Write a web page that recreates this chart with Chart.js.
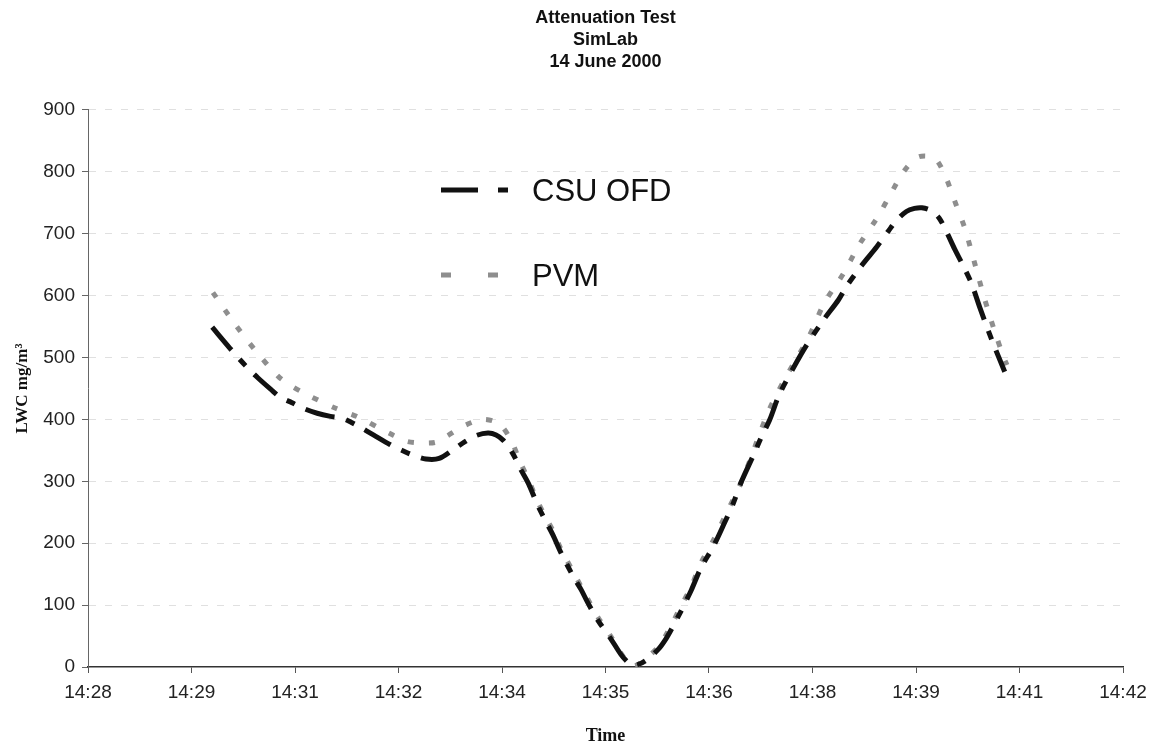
<!DOCTYPE html>
<html>
<head>
<meta charset="utf-8">
<script src="https://cdn.jsdelivr.net/npm/chart.js@4"></script>
<style>
  body { margin: 0; background: #fff; }
  #wrap { width: 1160px; height: 747px; }
</style>
</head>
<body>
<div id="wrap"><canvas id="chart"></canvas></div>
<script>
// time axis labels (Excel style, 84 s apart)
const tickLabels = ['14:28', '14:29', '14:31', '14:32', '14:34', '14:35', '14:36', '14:38', '14:39', '14:41', '14:42']

// minutes after 14:00, LWC in mg/m3
const csuTime = [
	29.68, 29.92, 30.13, 30.30, 30.47, 30.60, 30.76, 30.91, 31.10, 31.28,
	31.44, 31.66, 31.86, 32.09, 32.23, 32.40, 32.57, 32.75, 32.95, 33.10,
	33.25, 33.41, 33.52, 33.62, 33.75, 33.85, 33.96, 34.08, 34.19, 34.29,
	34.40, 34.57, 34.67, 34.76, 34.90, 35.07, 35.21, 35.30, 35.37, 35.44,
	35.55, 35.71, 35.82, 35.91, 36.02, 36.16, 36.29, 36.46, 36.61, 36.73,
	36.84, 37.00, 37.11, 37.22, 37.35, 37.55, 37.72, 37.95, 38.15, 38.26,
	38.46, 38.67, 38.83, 38.94, 39.07, 39.18, 39.28, 39.41, 39.51, 39.61,
	39.72, 39.84, 39.95, 40.06, 40.22, 40.40
]
const csuLwc = [
	549, 515, 487, 467, 449, 436, 427, 418, 410, 405,
	402, 389, 375, 359, 351, 342, 336, 337, 352, 364,
	374, 378, 375, 366, 344, 320, 296, 262, 236, 213,
	184, 145, 125, 104, 75, 46, 20, 8, 3, 4,
	11, 28, 46, 65, 90, 124, 160, 195, 233, 265,
	300, 342, 372, 399, 440, 485, 520, 561, 593, 615,
	648, 679, 705, 722, 736, 741, 742, 737, 726, 704,
	676, 648, 620, 582, 530, 477
]

const pvmTime = [
	29.69, 29.97, 30.26, 30.57, 30.74, 30.98, 31.35, 31.65, 32.07, 32.30,
	32.50, 32.70, 32.84, 33.11, 33.35, 33.56, 33.72, 33.85, 33.96, 34.08,
	34.19, 34.29, 34.40, 34.57, 34.67, 34.76, 34.90, 35.07, 35.21, 35.30,
	35.37, 35.44, 35.55, 35.71, 35.82, 35.91, 36.02, 36.16, 36.29, 36.46,
	36.61, 36.86, 37.20, 37.42, 37.74, 37.96, 38.22, 38.43, 38.67, 38.87,
	39.03, 39.23, 39.45, 39.59, 39.72, 39.86, 39.99, 40.12, 40.26, 40.39,
	40.43
]
const pvmLwc = [
	605, 557, 512, 470, 455, 439, 418, 404, 378, 365,
	362, 363, 372, 391, 400, 393, 367, 330, 302, 268,
	242, 220, 190, 152, 130, 110, 80, 50, 22, 8,
	2, 4, 14, 32, 52, 72, 98, 130, 168, 205,
	242, 305, 412, 464, 531, 588, 636, 682, 725, 767,
	800, 824, 822, 795, 754, 709, 654, 598, 544, 499,
	488
]

const toPoints = (xs, ys) => xs.map((x, i) => ({x: x, y: ys[i]}))

const sans = "'Liberation Sans', Arial, sans-serif"
const serif = "'Liberation Serif', 'Times New Roman', serif"

// legend drawn inside the plot like the excel one
const innerLegend = {
	id: 'innerLegend',
	afterDraw(chart) {
		const ctx = chart.ctx
		const items = [
			{ds: chart.data.datasets[0], y: 190, dash: [37, 20, 10, 100]},
			{ds: chart.data.datasets[1], y: 275, dash: [10, 37, 10, 100]}
		]
		ctx.save()
		items.forEach(it => {
			ctx.beginPath()
			ctx.setLineDash(it.dash)
			ctx.strokeStyle = it.ds.borderColor
			ctx.lineWidth = it.ds.borderWidth
			ctx.moveTo(441, it.y)
			ctx.lineTo(508, it.y)
			ctx.stroke()
			ctx.setLineDash([])
			ctx.fillStyle = '#111'
			ctx.font = '31px ' + sans
			ctx.textBaseline = 'middle'
			ctx.fillText(it.ds.label, 532, it.y + 2)
		})
		ctx.restore()
	}
}

const config = {
	type: 'line',
	data: {
		datasets: [{
			label: 'CSU OFD',
			data: toPoints(csuTime, csuLwc),
			borderColor: '#111',
			borderWidth: 5,
			borderDash: [30, 12, 9, 12],
			pointRadius: 0,
			tension: 0.3
		}, {
			label: 'PVM',
			data: toPoints(pvmTime, pvmLwc),
			borderColor: '#8e8e8e',
			borderWidth: 5,
			borderDash: [6, 15],
			pointRadius: 0,
			tension: 0.3
		}]
	},
	options: {
		responsive: true,
		maintainAspectRatio: false,
		animation: false,
		layout: {padding: {left: 0, right: 37, top: 0, bottom: 0}},
		plugins: {
			legend: {display: false},
			tooltip: {enabled: false},
			title: {
				display: true,
				fullSize: false,
				text: ['Attenuation Test', 'SimLab', '14 June 2000'],
				color: '#111',
				font: {family: sans, size: 18, weight: 'bold', lineHeight: 1.222},
				padding: {top: 7, bottom: 37}
			}
		},
		scales: {
			x: {
				type: 'linear',
				min: 28,
				max: 42,
				afterFit: (s) => { s.height = 80 },
				ticks: {
					stepSize: 1.4,
					autoSkip: false,
					maxRotation: 0,
					padding: 8,
					color: '#222',
					font: {family: sans, size: 19},
					callback: (v, i) => tickLabels[i]
				},
				grid: {drawOnChartArea: false, drawTicks: true, tickLength: 6, color: '#555'},
				border: {display: true, color: '#333', width: 1.5},
				title: {
					display: true,
					text: 'Time',
					color: '#111',
					font: {family: serif, size: 18, weight: 'bold'},
					padding: {top: 4, bottom: 0}
				}
			},
			y: {
				min: 0,
				max: 900,
				afterFit: (s) => { s.width = 88 },
				ticks: {
					stepSize: 100,
					padding: 7,
					color: '#222',
					font: {family: sans, size: 19}
				},
				grid: {
					color: (c) => c.tick && c.tick.value === 0 ? 'rgba(0,0,0,0)' : 'rgba(0,0,0,0.12)',
					tickColor: '#666',
					tickLength: 6,
					tickBorderDash: []
				},
				border: {display: true, color: '#666', width: 1, dash: [7, 9]},
				title: {
					display: true,
					text: 'LWC mg/m³',
					color: '#111',
					font: {family: serif, size: 17, weight: 'bold'},
					padding: {top: 12, bottom: 0}
				}
			}
		}
	},
	plugins: [innerLegend]
}

const myChart = new Chart(document.getElementById('chart'), config)
</script>
</body>
</html>
